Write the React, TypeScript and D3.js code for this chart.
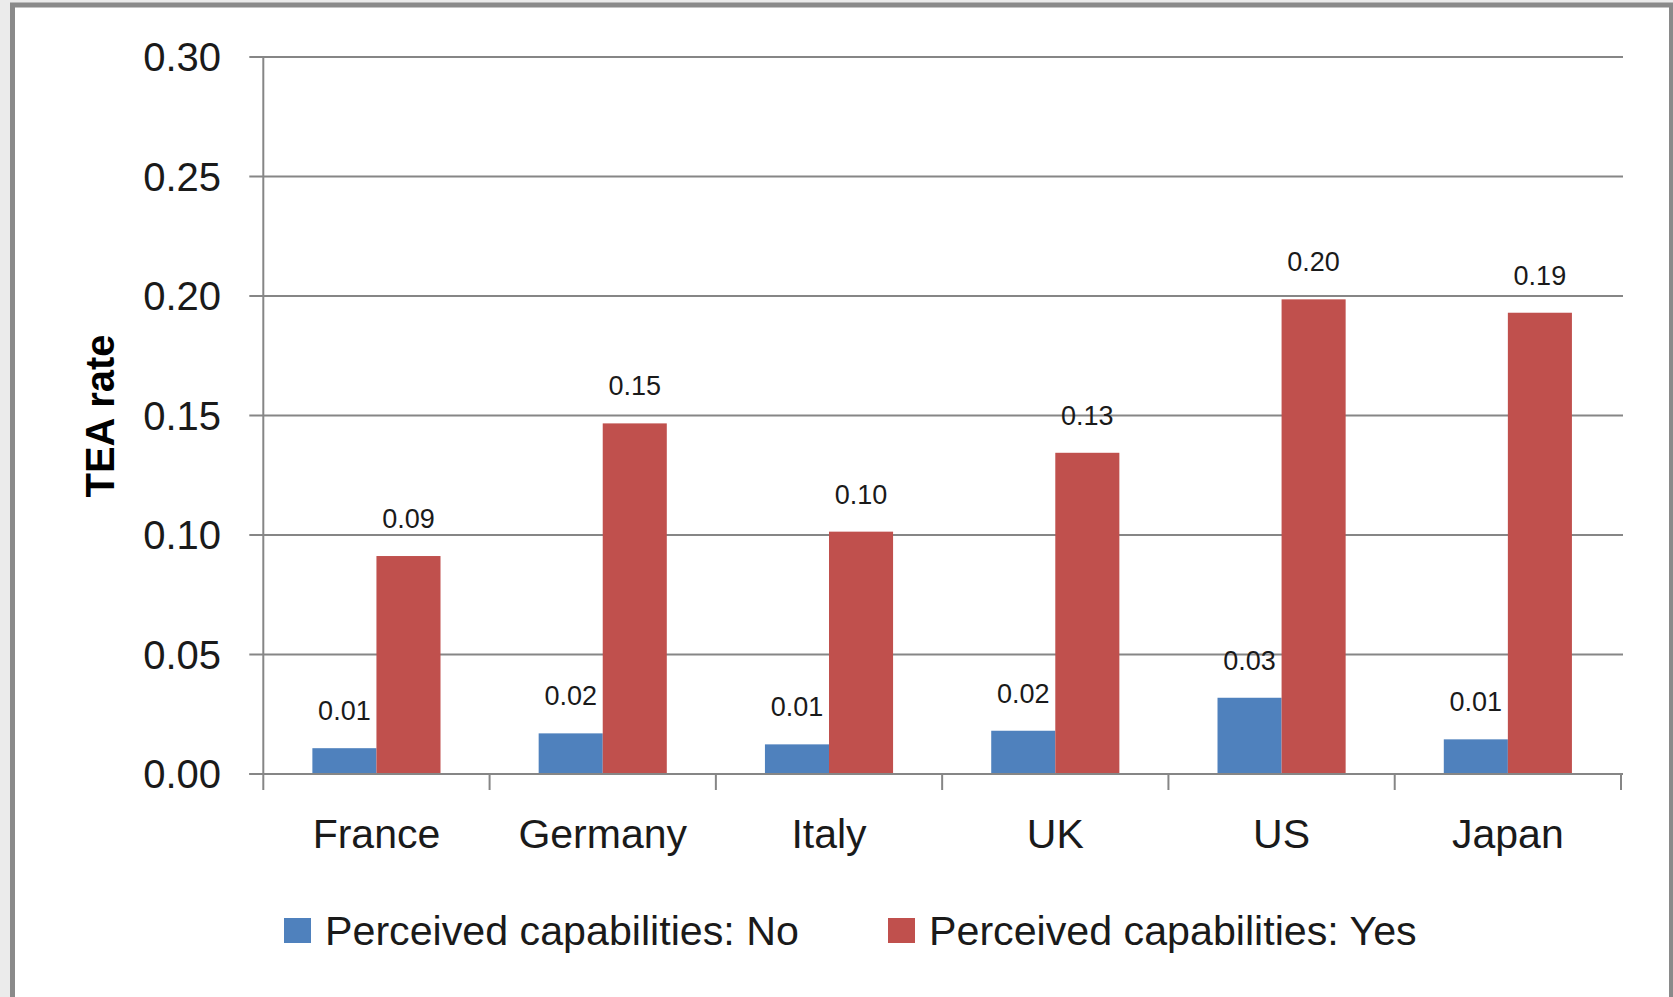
import * as d3 from 'd3'

// categories and series
const COUNTRIES = ['France', 'Germany', 'Italy', 'UK', 'US', 'Japan']
const SERIES = ['Perceived capabilities: No', 'Perceived capabilities: Yes']
const NO_VALUES = [0.0108, 0.017, 0.0124, 0.0181, 0.0319, 0.0145]
const YES_VALUES = [0.0912, 0.1467, 0.1014, 0.1344, 0.1986, 0.193]
const Y_TICKS = [0, 0.05, 0.1, 0.15, 0.2, 0.25, 0.3]

const COLORS = ['#4F81BD', '#C0504D']
const FONT = "'Liberation Sans', Arial, sans-serif"

const WIDTH = 1673
const HEIGHT = 997

// plot area
const left = 263.3
const right = 1621
const top = 57
const bottom = 774

const App = () => {
  const y = d3.scaleLinear().domain([0, 0.3]).range([bottom, top])
  const x0 = d3.scaleBand<string>().domain(COUNTRIES).range([left, right]).padding(0)
  const x1 = d3
    .scaleBand<string>()
    .domain(SERIES)
    .range([0, x0.bandwidth()])
    .paddingInner(0)
    .paddingOuter(0.766)

  const rows = COUNTRIES.map((c, i) => ({
    country: c,
    values: [NO_VALUES[i], YES_VALUES[i]],
  }))

  const axisColor = '#868686'
  const fmt = d3.format('.2f')

  return (
    <svg
      width={WIDTH}
      height={HEIGHT}
      style={{ position: 'absolute', left: 0, top: 0, display: 'block' }}
      fontFamily={FONT}
    >
      {/* page background and chart frame */}
      <rect x={0} y={0} width={WIDTH} height={HEIGHT} fill="#ebebeb" />
      <rect x={12.5} y={5} width={1659} height={1020} fill="#ffffff" stroke="#8a8a8a" strokeWidth={5} />

      {/* gridlines + y ticks */}
      {Y_TICKS.map(t => (
        <g key={t}>
          <line x1={left - 14} x2={right + 2} y1={y(t)} y2={y(t)} stroke={axisColor} strokeWidth={2} />
          <text x={221} y={y(t)} dy="0.36em" textAnchor="end" fontSize={40} fill="#1a1a1a">
            {fmt(t)}
          </text>
        </g>
      ))}

      {/* y axis line */}
      <line x1={left} x2={left} y1={top} y2={bottom + 16} stroke={axisColor} strokeWidth={2} />

      {/* category ticks */}
      {COUNTRIES.map(c => (
        <line
          key={c}
          x1={(x0(c) as number) + x0.bandwidth()}
          x2={(x0(c) as number) + x0.bandwidth()}
          y1={bottom}
          y2={bottom + 16}
          stroke={axisColor}
          strokeWidth={2}
        />
      ))}

      {/* bars */}
      {rows.map(r => (
        <g key={r.country} transform={`translate(${x0(r.country)},0)`}>
          {r.values.map((v, j) => (
            <rect
              key={j}
              x={x1(SERIES[j])}
              y={y(v)}
              width={x1.bandwidth()}
              height={bottom - y(v)}
              fill={COLORS[j]}
            />
          ))}
          {r.values.map((v, j) => (
            <text
              key={'l' + j}
              x={(x1(SERIES[j]) as number) + x1.bandwidth() / 2}
              y={y(v) - 28}
              textAnchor="middle"
              fontSize={27}
              fill="#1a1a1a"
            >
              {fmt(v)}
            </text>
          ))}
        </g>
      ))}

      {/* x axis line drawn over bar bottoms */}
      <line x1={left - 14} x2={right + 2} y1={bottom} y2={bottom} stroke={axisColor} strokeWidth={2} />

      {/* category labels */}
      {COUNTRIES.map(c => (
        <text
          key={c}
          x={(x0(c) as number) + x0.bandwidth() / 2}
          y={848}
          textAnchor="middle"
          fontSize={41}
          fill="#1a1a1a"
        >
          {c}
        </text>
      ))}

      {/* y axis title */}
      <text
        transform={`translate(114,416) rotate(-90)`}
        textAnchor="middle"
        fontSize={40}
        fontWeight="bold"
        fill="#000000"
      >
        TEA rate
      </text>

      {/* legend */}
      {SERIES.map((s, i) => {
        const lx = [284, 888][i]
        return (
          <g key={s} transform={`translate(${lx},0)`}>
            <rect x={0} y={918} width={27} height={25} fill={COLORS[i]} />
            <text x={41} y={945} fontSize={41.2} fill="#1a1a1a">
              {s}
            </text>
          </g>
        )
      })}
    </svg>
  )
}

export default App
